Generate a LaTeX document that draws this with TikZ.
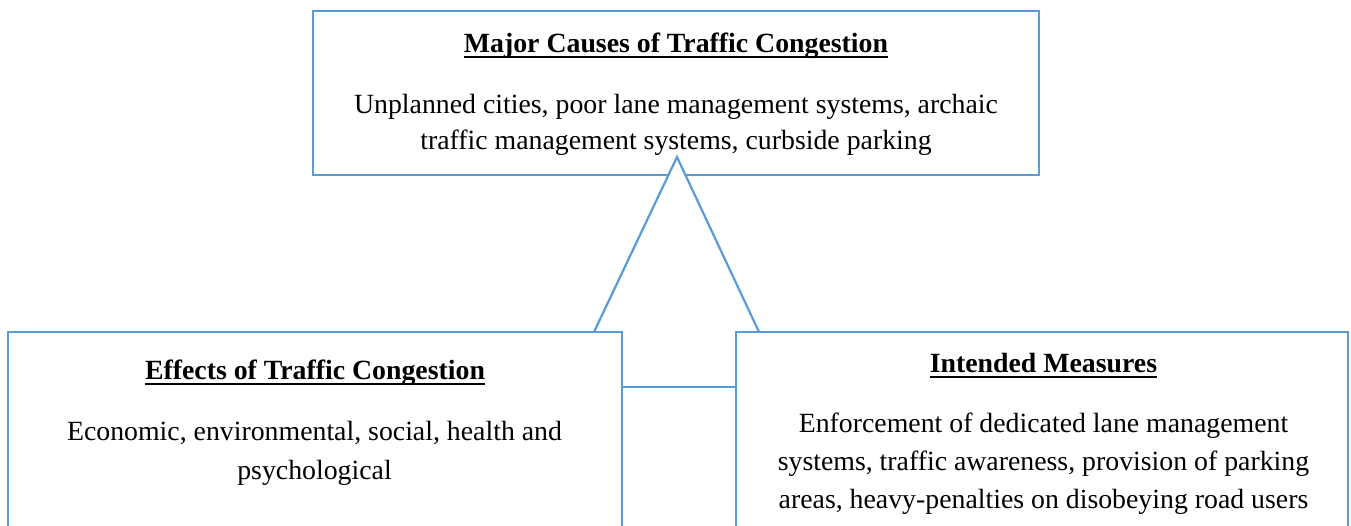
\documentclass[tikz,border=0pt]{standalone}
\usepackage{fontspec}
\setmainfont{Liberation Serif}
\definecolor{edge}{HTML}{5B9BD5}
\begin{document}
\begin{tikzpicture}[x=1pt,y=-1pt,
  panel/.style={draw=edge, line width=2.2pt, fill=white, inner sep=0pt},
  arrowline/.style={draw=edge, line width=2.2pt},
  txt/.style={anchor=base, inner sep=0pt, font=\fontsize{27.8}{33}\selectfont},
  head/.style={anchor=base, inner sep=0pt, font=\fontsize{27.8}{33}\selectfont\bfseries},
  uline/.style={line width=2pt, black},
]
\useasboundingbox (0,0) rectangle (1351,526);
\clip (0,0) rectangle (1351,526);

% top panel: causes
\node[panel, minimum width=726pt, minimum height=164pt] (causes) at (676,93) {};

% arrow head pointing up into the causes panel
\filldraw[arrowline, fill=white] (594,332) -- (677,157) -- (759,332);

% lower panels, running past the lower edge
\node[panel, minimum width=614pt, minimum height=268pt] (effects) at (315,466) {};
\node[panel, minimum width=612pt, minimum height=268pt] (measures) at (1042,466) {};

% arrow shaft bottom between the lower panels
\draw[arrowline] ([yshift=-56pt]effects.north east) -- ([yshift=-56pt]measures.north west);

% texts of the causes panel
\node[head] (h1) at (676,52.3) {Major Causes of Traffic Congestion};
\draw[uline] ([yshift=-4.6pt]h1.base west) -- ([yshift=-4.6pt]h1.base east);
\node[txt] (c1) at (676,113.3) {Unplanned cities, poor lane management systems, archaic};
\node[txt] (c2) at (676,150) {traffic management systems, curbside parking};

% texts of the effects panel
\node[head] (h2) at (315,379.3) {Effects of Traffic Congestion};
\draw[uline] ([yshift=-4.6pt]h2.base west) -- ([yshift=-4.6pt]h2.base east);
\node[txt] (e1) at (314.5,440) {Economic, environmental, social, health and};
\node[txt] (e2) at (314.5,479) {psychological};

% texts of the measures panel
\node[head] (h3) at (1043.5,372.3) {Intended Measures};
\draw[uline] ([yshift=-4.6pt]h3.base west) -- ([yshift=-4.6pt]h3.base east);
\node[txt] (m1) at (1043.5,432) {Enforcement of dedicated lane management};
\node[txt] (m2) at (1043.5,470) {systems, traffic awareness, provision of parking};
\node[txt] (m3) at (1043.5,508) {areas, heavy-penalties on disobeying road users};
\end{tikzpicture}
\end{document}
